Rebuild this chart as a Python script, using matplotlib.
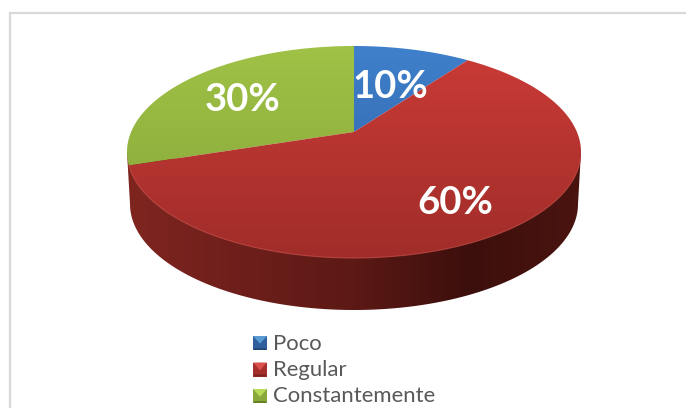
import numpy as np
import matplotlib
matplotlib.use('Agg')
import matplotlib.pyplot as plt
from matplotlib.patches import Polygon, Rectangle
from matplotlib.colors import LinearSegmentedColormap

# data
categories = ['Poco', 'Regular', 'Constantemente']
values = [10, 60, 30]
pct_labels = ['10%', '60%', '30%']

# look of the chart
top_colors = [('#3f80cc', '#2d5f9f'), ('#cb3b37', '#a02d29'), ('#a0c246', '#84a438')]
side_colors = ['#7f2520', '#6e1f1b', '#5c1915', '#3c0f0c', '#4a1410']
swatch_colors = [('#5b9bd5', '#2f5f9c', '#234a7a'), ('#d9504c', '#a52f2b', '#7c2220'), ('#b9d957', '#8aa83a', '#66802a')]
label_pos = [(390, 87), (455, 203), (243, 100)]

# ellipse of the top face in pixels, k is the perspective
cx, cy, a, b = 354, 152, 227, 106
k = 0.189
depth = 52


def project(theta):
    # theta clockwise from 12 o'clock on the disc
    u, v = np.sin(theta), np.cos(theta)
    w = 1 + k * v
    x = cx + a * np.sqrt(1 - k ** 2) * u / w
    y = cy - (b * k + b * v) / w
    return x, y


def grad_fill(ax, path_patch, c_list, extent, horizontal=False, z=2):
    cmap = LinearSegmentedColormap.from_list('g', c_list)
    g = np.linspace(0, 1, 256)
    g = g.reshape(1, -1) if horizontal else g.reshape(-1, 1)
    im = ax.imshow(g, cmap=cmap, extent=extent, aspect='auto', zorder=z, origin='upper')
    path_patch.set_transform(ax.transData)
    im.set_clip_path(path_patch)


fig = plt.figure(figsize=(6.86, 4.08), dpi=100)
ax = fig.add_axes([0, 0, 1, 1])
ax.axis('off')

# frame, only top and left are in the crop
ax.plot([686, 9.5, 9.5], [13, 13, 408], color='#d9d9d9', lw=1.6, zorder=1, solid_joinstyle='miter')

# side of the pie
t = np.linspace(-np.pi / 2, np.pi / 2, 200)
low_x = cx + (a - 3) * np.sin(t)
low_y = cy + depth + b * np.cos(t)
up_x = cx + a * np.sin(t[::-1])
up_y = cy + b * 0.1 * np.cos(t[::-1])
side = Polygon(np.column_stack([np.r_[low_x, up_x], np.r_[low_y, up_y]]), closed=True, fc='none', ec='none')
grad_fill(ax, side, side_colors, (cx - a, cx + a, cy + depth + b, cy), horizontal=True, z=2)

# top face slices, starting at 12 o'clock going clockwise
start = 0
total = sum(values)
apex = (cx, cy - b * k)
for i, val in enumerate(values):
    end = start + val / total * 2 * np.pi
    th = np.linspace(start, end, 200)
    x, y = project(th)
    pts = np.column_stack([np.r_[apex[0], x], np.r_[apex[1], y]])
    face = Polygon(pts, closed=True, fc='none', ec='none')
    grad_fill(ax, face, [top_colors[i][0], top_colors[i][1]], (cx - a, cx + a, cy + b, cy - b), z=3 + (i == 1))
    start = end

# light rim on the front edge
t = np.linspace(np.pi * 0.58, np.pi * 1.4, 200)
x, y = project(t)
ax.plot(x, y, color='#c9504a', lw=0.8, alpha=0.7, zorder=5)

for lab, pos in zip(pct_labels, label_pos):
    ax.text(pos[0], pos[1], lab, color='white', fontsize=27.5, fontweight='bold', family='Lato',
            ha='center', va='center', zorder=6)

# legend
for i, name in enumerate(categories):
    sx, sy = 253, 336 + i * 26.5
    s = 14
    c = swatch_colors[i]
    ax.add_patch(Rectangle((sx, sy), s, s, fc=c[1], ec='none', zorder=3))
    ax.add_patch(Polygon([(sx, sy), (sx + s, sy), (sx + s / 2, sy + s * 0.55)], fc=c[0], ec='none', zorder=4))
    ax.add_patch(Polygon([(sx, sy + s), (sx + s, sy + s), (sx + s - 2, sy + s - 2), (sx + 2, sy + s - 2)],
                         fc=c[2], ec='none', zorder=4))
    ax.text(273, sy + s / 2 + 0.5, name, color='#595959', fontsize=15.9, family='Lato', ha='left', va='center', zorder=6)

ax.set_xlim(0, 686)
ax.set_ylim(408, 0)
fig.savefig('out.png', dpi=100)
